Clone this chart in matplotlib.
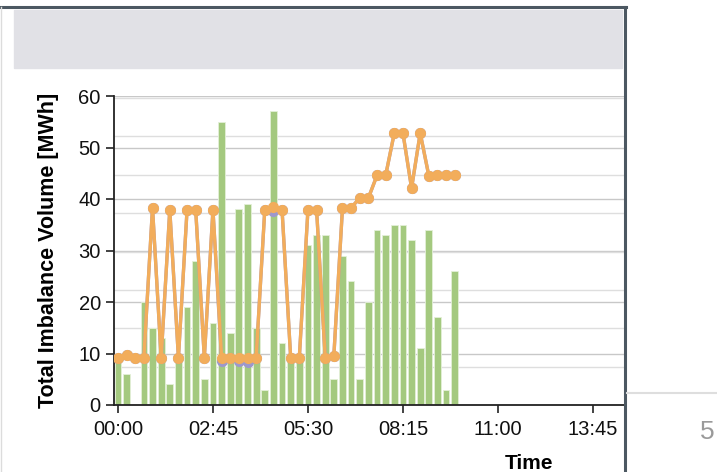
import numpy as np
import matplotlib
matplotlib.use("Agg")
import matplotlib.pyplot as plt
from matplotlib.patches import Rectangle
from matplotlib.lines import Line2D

plt.rcParams['font.family'] = ['Liberation Sans', 'DejaVu Sans']

# 15-minute periods starting 00:00
volume = [9, 6, 0, 20, 15, 13, 4, 9.5, 19, 28,
          5, 16, 55, 14, 38, 39, 15, 3, 57, 12,
          10, 9, 31, 33, 33, 5, 29, 24, 5, 20,
          34, 33, 35, 35, 32, 11, 34, 17, 3, 26]
price_a = [9.2, 9.7, 9.2, 9.2, 38.3, 9.2, 37.9, 9.2, 37.9, 37.9,
           9.2, 37.9, 9.2, 9.2, 9.2, 9.2, 9.2, 37.9, 38.5, 37.9,
           9.2, 9.2, 37.9, 37.9, 9.2, 9.6, 38.3, 38.3, 40.2, 40.2,
           44.6, 44.6, 52.8, 52.8, 42.1, 52.8, 44.5, 44.6, 44.6, 44.6]
price_b = [9.2, 9.7, 9.2, 9.2, 38.3, 9.2, 37.9, 9.2, 37.9, 37.9,
           9.2, 37.9, 8.6, 9.2, 8.5, 8.3, 9.2, 37.9, 37.7, 37.9,
           9.2, 9.2, 37.9, 37.9, 9.2, 9.6, 38.3, 38.3, 40.2, 40.2,
           44.6, 44.6, 52.8, 52.8, 42.1, 52.8, 44.5, 44.6, 44.6, 44.6]
tick_pos = [0, 11, 22, 33, 44, 55]
tick_labels = ['00:00', '02:45', '05:30', '08:15', '11:00', '13:45']

W, H = 717, 472
fig = plt.figure(figsize=(W / 100, H / 100), dpi=100)

def fx(px):
    return px / W

def fy(py):
    return 1 - py / H

# panel decorations
fig.patches.append(Rectangle((fx(14), fy(68)), fx(622 - 14), (68 - 10) / H,
                             transform=fig.transFigure, color='#e1e1e6', zorder=0))
fig.add_artist(Line2D([0, fx(626)], [fy(7), fy(7)], color='#4c5862', lw=2.2))
fig.add_artist(Line2D([fx(625), fx(625)], [fy(7), 0], color='#4c5862', lw=2.2))
fig.add_artist(Line2D([fx(0.5), fx(0.5)], [fy(7), 0], color='#dcdcdc', lw=1))
fig.add_artist(Line2D([fx(627), 1], [fy(393), fy(393)], color='#dedede', lw=1.5))
fig.text(fx(707), fy(432), '5', fontsize=19, color='#9a9a9a', ha='center', va='center')

ax = fig.add_axes([fx(114), fy(405), fx(624 - 114), (405 - 96) / H])
x = np.arange(len(volume))

ax.bar(x, volume, width=0.78, color='#a4c97f', edgecolor='#e4f0d8', linewidth=0.6, zorder=2)
ax.plot(x, price_b, color='#9d98cc', lw=2.4, marker='o', ms=7, zorder=3)
ax.plot(x, price_a, color='#f2ad5b', lw=2.4, marker='o', ms=7, zorder=4)

ax.set_xlim(-0.46, 58.6)
ax.set_ylim(0, 60)
ax.set_yticks(np.arange(0, 61, 10))
ax.set_yticks(np.arange(7.45, 60, 7.45), minor=True)
ax.set_xticks(tick_pos)
ax.set_xticklabels(tick_labels)
ax.grid(axis='y', which='major', color='#c8c8c8', lw=1, zorder=0)
ax.grid(axis='y', which='minor', color='#dedede', lw=1, zorder=0)
ax.set_axisbelow(True)

for s in ['top', 'right']:
    ax.spines[s].set_visible(False)
for s in ['left', 'bottom']:
    ax.spines[s].set_color('#222222')
    ax.spines[s].set_linewidth(1.3)

ax.tick_params(axis='both', which='major', labelsize=14.5, length=6, width=1.2,
               color='#222222', labelcolor='#111111')
ax.tick_params(axis='y', which='minor', length=0)
ax.tick_params(axis='x', pad=5)

ax.set_ylabel('Total Imbalance Volume [MWh]', fontsize=15.5, fontweight='bold')
ax.yaxis.set_label_coords(-0.108, 0.5)
ax.set_xlabel('Time', fontsize=15, fontweight='bold')
ax.xaxis.set_label_coords((529 - 114) / 510, (405 - 454) / 309)

fig.savefig('out.png', dpi=100)
